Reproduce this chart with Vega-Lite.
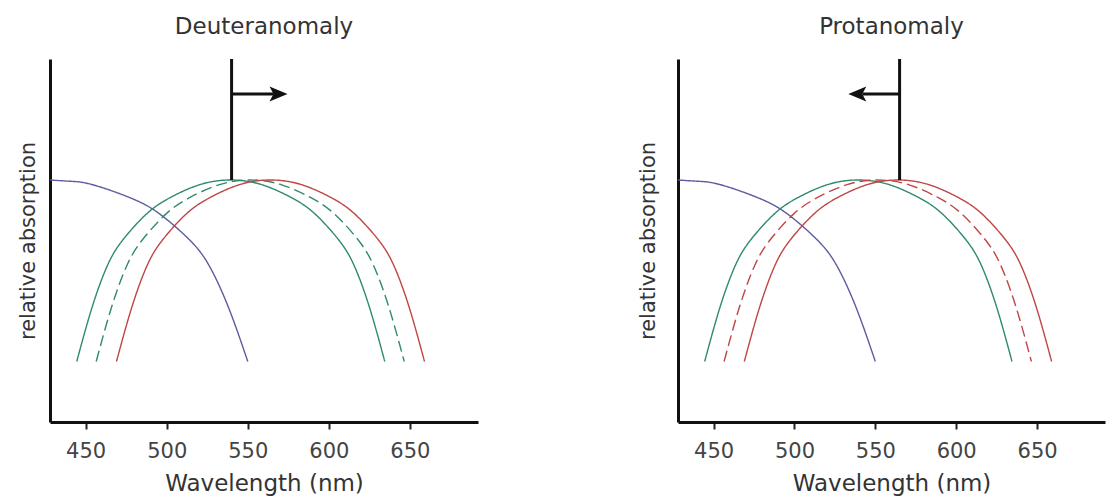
{
  "$schema": "https://vega.github.io/schema/vega-lite/v6.json",
  "padding": {"left": 17, "top": 15, "right": 5, "bottom": 5},
  "spacing": 159,
  "background": "white",
  "config": {
    "view": {"stroke": null},
    "font": "DejaVu Sans",
    "axis": {
      "grid": false,
      "domainColor": "#111111",
      "domainWidth": 3,
      "tickColor": "#222222",
      "tickWidth": 2,
      "tickSize": 7,
      "labelFont": "DejaVu Sans",
      "labelFontSize": 21,
      "labelColor": "#444444",
      "labelPadding": 11,
      "titleFont": "DejaVu Sans",
      "titleFontWeight": "normal",
      "titleColor": "#333333"
    }
  },
  "resolve": {"scale": {"color": "independent"}},
  "datasets": {
    "cones": [
      {"cone": "S", "nm": 428, "absorption": 1.0},
      {"cone": "S", "nm": 440, "absorption": 0.995},
      {"cone": "S", "nm": 454, "absorption": 0.981},
      {"cone": "S", "nm": 478, "absorption": 0.925},
      {"cone": "S", "nm": 496, "absorption": 0.858},
      {"cone": "S", "nm": 514, "absorption": 0.753},
      {"cone": "S", "nm": 526, "absorption": 0.648},
      {"cone": "S", "nm": 538, "absorption": 0.475},
      {"cone": "S", "nm": 550, "absorption": 0.25},

      {"cone": "M", "nm": 444.5, "absorption": 0.25},
      {"cone": "M", "nm": 454, "absorption": 0.475},
      {"cone": "M", "nm": 463.5, "absorption": 0.648},
      {"cone": "M", "nm": 473, "absorption": 0.753},
      {"cone": "M", "nm": 487.25, "absorption": 0.858},
      {"cone": "M", "nm": 501.5, "absorption": 0.925},
      {"cone": "M", "nm": 520.5, "absorption": 0.981},
      {"cone": "M", "nm": 539.5, "absorption": 1.0},
      {"cone": "M", "nm": 558.5, "absorption": 0.981},
      {"cone": "M", "nm": 577.5, "absorption": 0.925},
      {"cone": "M", "nm": 591.75, "absorption": 0.858},
      {"cone": "M", "nm": 606, "absorption": 0.753},
      {"cone": "M", "nm": 615.5, "absorption": 0.648},
      {"cone": "M", "nm": 625, "absorption": 0.475},
      {"cone": "M", "nm": 634.5, "absorption": 0.25},

      {"cone": "shifted", "nm": 456.5, "absorption": 0.25},
      {"cone": "shifted", "nm": 466, "absorption": 0.475},
      {"cone": "shifted", "nm": 475.5, "absorption": 0.648},
      {"cone": "shifted", "nm": 485, "absorption": 0.753},
      {"cone": "shifted", "nm": 499.25, "absorption": 0.858},
      {"cone": "shifted", "nm": 513.5, "absorption": 0.925},
      {"cone": "shifted", "nm": 532.5, "absorption": 0.981},
      {"cone": "shifted", "nm": 551.5, "absorption": 1.0},
      {"cone": "shifted", "nm": 570.5, "absorption": 0.981},
      {"cone": "shifted", "nm": 589.5, "absorption": 0.925},
      {"cone": "shifted", "nm": 603.75, "absorption": 0.858},
      {"cone": "shifted", "nm": 618, "absorption": 0.753},
      {"cone": "shifted", "nm": 627.5, "absorption": 0.648},
      {"cone": "shifted", "nm": 637, "absorption": 0.475},
      {"cone": "shifted", "nm": 646.5, "absorption": 0.25},

      {"cone": "L", "nm": 469, "absorption": 0.25},
      {"cone": "L", "nm": 478.5, "absorption": 0.475},
      {"cone": "L", "nm": 488, "absorption": 0.648},
      {"cone": "L", "nm": 497.5, "absorption": 0.753},
      {"cone": "L", "nm": 511.75, "absorption": 0.858},
      {"cone": "L", "nm": 526, "absorption": 0.925},
      {"cone": "L", "nm": 545, "absorption": 0.981},
      {"cone": "L", "nm": 564, "absorption": 1.0},
      {"cone": "L", "nm": 583, "absorption": 0.981},
      {"cone": "L", "nm": 602, "absorption": 0.925},
      {"cone": "L", "nm": 616.25, "absorption": 0.858},
      {"cone": "L", "nm": 630.5, "absorption": 0.753},
      {"cone": "L", "nm": 640, "absorption": 0.648},
      {"cone": "L", "nm": 649.5, "absorption": 0.475},
      {"cone": "L", "nm": 659, "absorption": 0.25}
    ],
    "markers": [
      {"panel": "Deuteranomaly", "peak": 540, "low": 1.0, "high": 1.5, "arrowLevel": 1.355, "shaftEnd": 566, "tip": 574.5},
      {"panel": "Protanomaly", "peak": 565, "low": 1.0, "high": 1.5, "arrowLevel": 1.355, "shaftEnd": 542, "tip": 533.3}
    ]
  },
  "hconcat": [
    {
      "width": 428,
      "height": 363,
      "title": {"text": "Deuteranomaly", "fontSize": 23, "font": "DejaVu Sans", "fontWeight": "normal", "color": "#333333", "offset": 1, "baseline": "alphabetic"},
      "layer": [
        {
          "data": {"name": "cones"},
          "mark": {"type": "line", "interpolate": "natural", "strokeWidth": 1.4},
          "encoding": {
            "x": {"field": "nm", "type": "quantitative", "scale": {"domain": [428, 692], "nice": false, "zero": false}, "axis": {"values": [450, 500, 550, 600, 650], "title": "Wavelength (nm)", "titleFontSize": 23, "titlePadding": 11}},
            "y": {"field": "absorption", "type": "quantitative", "scale": {"domain": [0, 1.5], "nice": false}, "axis": {"title": "relative absorption", "labels": false, "ticks": false, "titleFontSize": 21, "titlePadding": 12}},
            "color": {"field": "cone", "type": "nominal", "scale": {"domain": ["S", "M", "shifted", "L"], "range": ["#5c5ca0", "#2f8a6e", "#2f8a6e", "#c04545"]}, "legend": null},
            "strokeDash": {"field": "cone", "type": "nominal", "scale": {"domain": ["S", "M", "shifted", "L"], "range": [[1, 0], [1, 0], [11, 5], [1, 0]]}, "legend": null}
          }
        },
        {
          "data": {"name": "markers"},
          "transform": [{"filter": "datum.panel === 'Deuteranomaly'"}],
          "mark": {"type": "rule", "strokeWidth": 3, "color": "#111111"},
          "encoding": {"x": {"field": "peak", "type": "quantitative"}, "y": {"field": "low", "type": "quantitative"}, "y2": {"field": "high"}}
        },
        {
          "data": {"name": "markers"},
          "transform": [{"filter": "datum.panel === 'Deuteranomaly'"}],
          "mark": {"type": "rule", "strokeWidth": 3, "color": "#111111"},
          "encoding": {"x": {"field": "peak", "type": "quantitative"}, "x2": {"field": "shaftEnd"}, "y": {"field": "arrowLevel", "type": "quantitative"}}
        },
        {
          "data": {"name": "markers"},
          "transform": [{"filter": "datum.panel === 'Deuteranomaly'"}],
          "mark": {"type": "point", "filled": true, "opacity": 1, "size": 400, "color": "#111111", "strokeWidth": 0, "shape": "M 0 0 L -1.8 -0.75 L -1.4 0 L -1.8 0.75 Z"},
          "encoding": {"x": {"field": "tip", "type": "quantitative"}, "y": {"field": "arrowLevel", "type": "quantitative"}}
        }
      ]
    },
    {
      "width": 427,
      "height": 363,
      "title": {"text": "Protanomaly", "fontSize": 23, "font": "DejaVu Sans", "fontWeight": "normal", "color": "#333333", "offset": 1, "baseline": "alphabetic"},
      "layer": [
        {
          "data": {"name": "cones"},
          "mark": {"type": "line", "interpolate": "natural", "strokeWidth": 1.4},
          "encoding": {
            "x": {"field": "nm", "type": "quantitative", "scale": {"domain": [428, 692], "nice": false, "zero": false}, "axis": {"values": [450, 500, 550, 600, 650], "title": "Wavelength (nm)", "titleFontSize": 23, "titlePadding": 11}},
            "y": {"field": "absorption", "type": "quantitative", "scale": {"domain": [0, 1.5], "nice": false}, "axis": {"title": "relative absorption", "labels": false, "ticks": false, "titleFontSize": 21, "titlePadding": 20}},
            "color": {"field": "cone", "type": "nominal", "scale": {"domain": ["S", "M", "shifted", "L"], "range": ["#5c5ca0", "#2f8a6e", "#c04545", "#c04545"]}, "legend": null},
            "strokeDash": {"field": "cone", "type": "nominal", "scale": {"domain": ["S", "M", "shifted", "L"], "range": [[1, 0], [1, 0], [11, 5], [1, 0]]}, "legend": null}
          }
        },
        {
          "data": {"name": "markers"},
          "transform": [{"filter": "datum.panel === 'Protanomaly'"}],
          "mark": {"type": "rule", "strokeWidth": 3, "color": "#111111"},
          "encoding": {"x": {"field": "peak", "type": "quantitative"}, "y": {"field": "low", "type": "quantitative"}, "y2": {"field": "high"}}
        },
        {
          "data": {"name": "markers"},
          "transform": [{"filter": "datum.panel === 'Protanomaly'"}],
          "mark": {"type": "rule", "strokeWidth": 3, "color": "#111111"},
          "encoding": {"x": {"field": "peak", "type": "quantitative"}, "x2": {"field": "shaftEnd"}, "y": {"field": "arrowLevel", "type": "quantitative"}}
        },
        {
          "data": {"name": "markers"},
          "transform": [{"filter": "datum.panel === 'Protanomaly'"}],
          "mark": {"type": "point", "filled": true, "opacity": 1, "size": 400, "color": "#111111", "strokeWidth": 0, "shape": "M 0 0 L 1.8 -0.75 L 1.4 0 L 1.8 0.75 Z"},
          "encoding": {"x": {"field": "tip", "type": "quantitative"}, "y": {"field": "arrowLevel", "type": "quantitative"}}
        }
      ]
    }
  ]
}
